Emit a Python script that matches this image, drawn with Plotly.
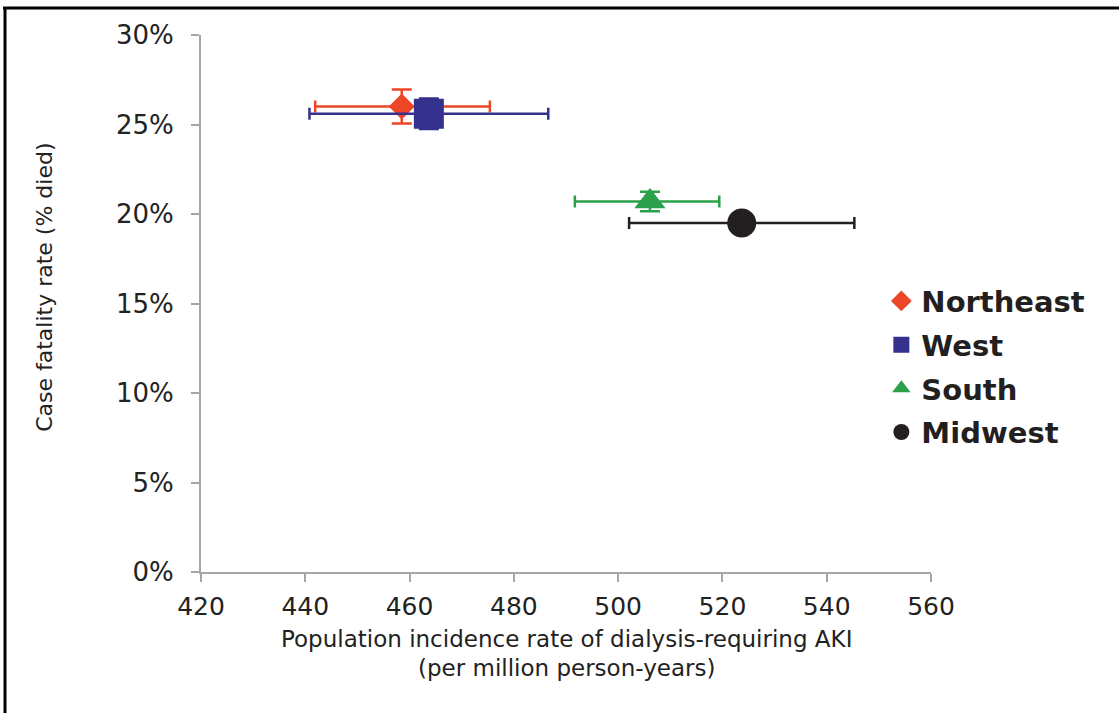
import plotly.graph_objects as go

regions = ["Northeast", "West", "South", "Midwest"]
incidence = [458.5, 463.7, 506.1, 523.7]
inc_err_plus = [16.9, 22.9, 13.3, 21.6]
inc_err_minus = [16.6, 22.9, 14.4, 21.6]
fatality = [26.0, 25.6, 20.7, 19.5]
fat_err = [0.95, 0.85, 0.55, 0.4]

colors = ["#ec4627", "#34318f", "#2ba04a", "#231f20"]
symbols = ["diamond", "square", "triangle-up", "circle"]
sizes = [20, 30, 27, 29]

x_ticks = [420, 440, 460, 480, 500, 520, 540, 560]
y_ticks = [0, 5, 10, 15, 20, 25, 30]
y_ticktext = [f"{v}%" for v in y_ticks]

x_title_lines = ["Population incidence rate of dialysis-requiring AKI",
                 "(per million person-years)"]
y_title = "Case fatality rate (% died)"

fig = go.Figure()
for i, name in enumerate(regions):
    fig.add_trace(go.Scatter(
        x=[incidence[i]], y=[fatality[i]], name=name, mode="markers",
        legendgroup=name,
        marker=dict(symbol=symbols[i], size=sizes[i], color=colors[i],
                    line=dict(width=0)),
        error_x=dict(type="data", symmetric=False, array=[inc_err_plus[i]],
                     arrayminus=[inc_err_minus[i]], color=colors[i],
                     thickness=2.5, width=6),
        error_y=dict(type="data", array=[fat_err[i]], color=colors[i],
                     thickness=2.5, width=10),
    ))

axis_gray = "#a6a6a6"
text_col = "#222222"
fig.update_layout(
    width=1119, height=713,
    margin=dict(l=201, r=188, t=35, b=141),
    paper_bgcolor="white", plot_bgcolor="white",
    font=dict(family="DejaVu Sans", color=text_col),
    showlegend=True,
    legend=dict(x=0.932, y=0.552, xanchor="left", yanchor="top",
                font=dict(family="DejaVu Sans", size=29, color="#231f20",
                          weight="bold"),
                tracegroupgap=3,
                bgcolor="rgba(0,0,0,0)", itemsizing="trace"),
    xaxis=dict(range=[420, 560], tickvals=x_ticks, showgrid=False,
               zeroline=False, showline=True, linecolor=axis_gray, linewidth=2,
               ticks="outside", tickcolor=axis_gray, ticklen=8, tickwidth=2,
               tickfont=dict(size=25, color=text_col),
               ticklabelstandoff=3),
    yaxis=dict(range=[0, 30], tickmode="array", tickvals=y_ticks,
               ticktext=y_ticktext, showgrid=False,
               zeroline=False, showline=True, linecolor=axis_gray, linewidth=2,
               ticks="outside", tickcolor=axis_gray, ticklen=8, tickwidth=2,
               tickfont=dict(size=26, color=text_col),
               ticklabelstandoff=12),
    annotations=[
        dict(text=y_title, xref="paper", yref="paper",
             x=-0.2137, y=0.531, xanchor="center", yanchor="middle",
             textangle=-90, showarrow=False,
             font=dict(size=22, color=text_col)),
        dict(text=x_title_lines[0], xref="paper", yref="paper",
             x=0.5, y=-0.1248, xanchor="center", yanchor="middle",
             showarrow=False, font=dict(size=23, color=text_col)),
        dict(text=x_title_lines[1], xref="paper", yref="paper",
             x=0.5, y=-0.1788, xanchor="center", yanchor="middle",
             showarrow=False, font=dict(size=23, color=text_col)),
    ],
    shapes=[
        dict(type="line", xref="paper", yref="paper", x0=-0.2685, x1=-0.2685,
             y0=1.0503, y1=-0.27, line=dict(color="black", width=3)),
        dict(type="line", xref="paper", yref="paper", x0=-0.2712, x1=1.26,
             y0=1.0503, y1=1.0503, line=dict(color="black", width=3)),
    ],
)

fig.write_html("out.html")
